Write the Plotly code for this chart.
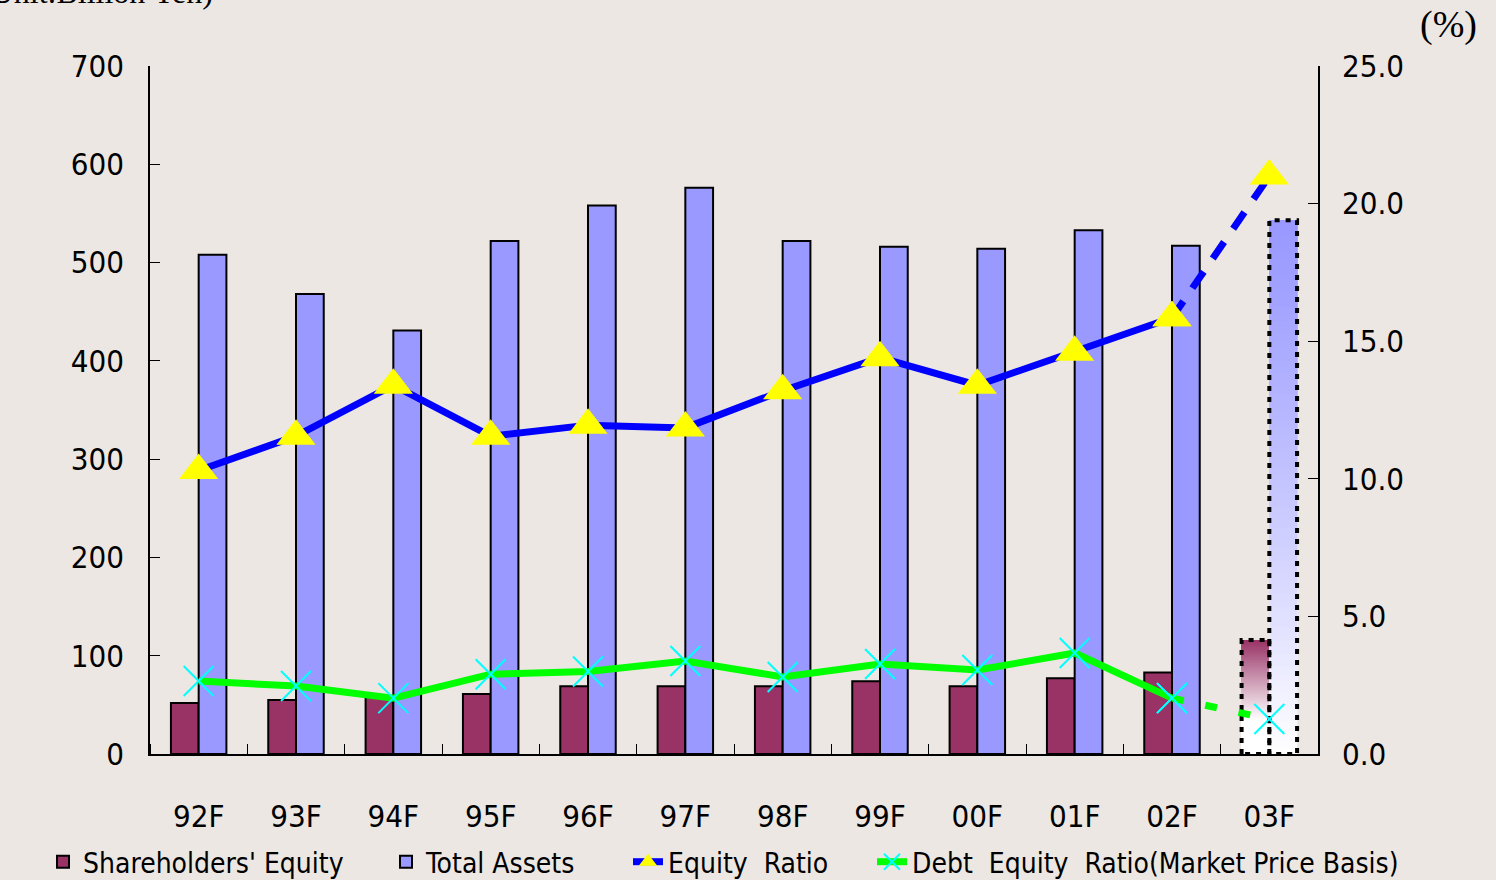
import numpy as np
import plotly.graph_objects as go

categories = ["92F", "93F", "94F", "95F", "96F", "97F", "98F", "99F", "00F", "01F", "02F", "03F"]
shareholders_equity = [52, 55, 58, 61, 69, 69, 69, 74, 69, 77, 83, 116]
total_assets = [508, 468, 431, 522, 558, 576, 522, 516, 514, 533, 517, 543]
equity_ratio = [10.3, 11.55, 13.4, 11.55, 11.95, 11.85, 13.2, 14.4, 13.4, 14.6, 15.85, 21.0]
debt_equity_ratio = [2.65, 2.47, 2.03, 2.9, 3.0, 3.38, 2.8, 3.27, 3.05, 3.67, 2.03, 1.27]

BG = "#ECE7E3"
MAROON = "#993366"
BLUE_BAR = "#9999FF"
FONT = "DejaVu Sans Condensed, Liberation Sans Narrow, sans-serif"
SERIF = "Liberation Serif, DejaVu Serif, serif"
W = 0.285

n_actual = len(categories) - 1
xs = np.arange(len(categories))

fig = go.Figure()

fig.add_trace(go.Bar(
    x=xs[:n_actual], y=shareholders_equity[:n_actual], width=W, offset=-W,
    marker=dict(color=MAROON, line=dict(color="black", width=2)),
    name="Shareholders' Equity", legend="legend", hoverinfo="skip"))
fig.add_trace(go.Bar(
    x=xs[:n_actual], y=total_assets[:n_actual], width=W, offset=0,
    marker=dict(color=BLUE_BAR, line=dict(color="black", width=2)),
    name="Total Assets", legend="legend2", hoverinfo="skip"))


def mix(c, t):
    c = c.lstrip("#")
    r, g, b = int(c[0:2], 16), int(c[2:4], 16), int(c[4:6], 16)
    return "rgb(%d,%d,%d)" % (r + (255 - r) * t, g + (255 - g) * t, b + (255 - b) * t)


def gradient_bar(xpos, value, color, offset, white_below, power):
    # one bar drawn as overlapping slices from the bottom up, all ending at the value
    N = 80
    h = value / N
    bases = [i * h for i in range(N)]
    heights = [value - b for b in bases]
    cols = []
    for i in range(N):
        frac = (i + 0.5) / N  # 0 bottom -> 1 top
        t = (1 - frac) / (1 - white_below)
        t = max(0.0, min(1.0, t)) ** power
        cols.append(mix(color, t))
    fig.add_trace(go.Bar(
        x=[xpos] * N, y=heights, base=bases, width=W, offset=offset,
        marker=dict(color=cols, line=dict(width=0)),
        showlegend=False, hoverinfo="skip"))
    x0 = xpos + offset
    x1 = x0 + W
    fig.add_trace(go.Scatter(
        x=[x0, x0, x1, x1, x0], y=[0, value, value, 0, 0], mode="lines",
        line=dict(color="black", width=4, dash="5px,6px"),
        showlegend=False, hoverinfo="skip"))


gradient_bar(xs[-1], shareholders_equity[-1], MAROON, -W, 0.3, 1.0)
gradient_bar(xs[-1], total_assets[-1], BLUE_BAR, 0, 0.0, 1.2)

TRI = dict(symbol="triangle-up", size=34, color="#FFFF00", line=dict(width=0))
XM = dict(symbol="x-thin-open", size=30, color="#00FFFF", line=dict(width=2, color="#00FFFF"))

fig.add_trace(go.Scatter(
    x=xs[:n_actual], y=equity_ratio[:n_actual], yaxis="y2", mode="lines+markers",
    line=dict(color="#0000FF", width=7), marker=TRI,
    name="Equity\u00a0 Ratio", legend="legend3", hoverinfo="skip"))
fig.add_trace(go.Scatter(
    x=xs[n_actual - 1:], y=equity_ratio[n_actual - 1:], yaxis="y2", mode="lines",
    line=dict(color="#0000FF", width=7, dash="20px,16px"),
    showlegend=False, hoverinfo="skip"))
fig.add_trace(go.Scatter(
    x=xs[n_actual - 1:], y=equity_ratio[n_actual - 1:], yaxis="y2", mode="markers",
    marker=TRI, showlegend=False, hoverinfo="skip"))

fig.add_trace(go.Scatter(
    x=xs[:n_actual], y=debt_equity_ratio[:n_actual], yaxis="y2", mode="lines+markers",
    line=dict(color="#00FF00", width=7), marker=XM,
    name="Debt\u00a0 Equity\u00a0 Ratio(Market Price Basis)", legend="legend4", hoverinfo="skip"))
fig.add_trace(go.Scatter(
    x=xs[n_actual - 1:], y=debt_equity_ratio[n_actual - 1:], yaxis="y2", mode="lines",
    line=dict(color="#00FF00", width=7, dash="12px,22px"),
    showlegend=False, hoverinfo="skip"))
fig.add_trace(go.Scatter(
    x=xs[n_actual - 1:], y=debt_equity_ratio[n_actual - 1:], yaxis="y2", mode="markers",
    marker=XM, showlegend=False, hoverinfo="skip"))


def leg(xpx):
    return dict(orientation="h", xref="container", yref="container",
                x=xpx / 1496, xanchor="left", y=18 / 880, yanchor="middle",
                bgcolor="rgba(0,0,0,0)", font=dict(size=28), itemwidth=30)


fig.update_layout(
    width=1496, height=880,
    margin=dict(l=150, r=178, t=66, b=126, autoexpand=False),
    paper_bgcolor=BG, plot_bgcolor=BG,
    barmode="overlay",
    font=dict(family=FONT, size=30, color="black"),
    xaxis=dict(
        range=[-0.5, 11.5], tickvals=list(xs), ticktext=categories, ticks="",
        showline=True, linecolor="black", linewidth=1.5, showgrid=False, zeroline=False,
        ticklabelstandoff=34, tickfont=dict(size=31), automargin=False,
        minor=dict(ticks="inside", tick0=0.5, dtick=1, ticklen=10, tickcolor="black", showgrid=False),
    ),
    yaxis=dict(
        range=[0, 700], dtick=100, ticks="inside", ticklen=10, tickcolor="black",
        showline=True, linecolor="black", linewidth=1.5, showgrid=False, zeroline=False,
        ticklabelstandoff=18, tickfont=dict(size=31), automargin=False,
    ),
    yaxis2=dict(
        range=[0, 25], dtick=5, tickformat=".1f", overlaying="y", side="right",
        ticks="inside", ticklen=10, tickcolor="black",
        showline=True, linecolor="black", linewidth=1.5, showgrid=False, zeroline=False,
        ticklabelstandoff=16, tickfont=dict(size=31), automargin=False,
    ),
    legend=leg(43),
    legend2=leg(386),
    legend3=leg(628),
    legend4=leg(872),
    showlegend=True,
    annotations=[
        dict(text="(Unit:Billion Yen)", xref="paper", yref="paper", x=0.0557, y=1.078,
             xanchor="right", yanchor="bottom", showarrow=False,
             font=dict(family=SERIF, size=32)),
        dict(text="(%)", xref="paper", yref="paper", x=1.0856, y=1.0596,
             xanchor="left", yanchor="middle", showarrow=False,
             font=dict(family=SERIF, size=38)),
    ],
)

fig.write_html("out.html", config={"displayModeBar": False},
               post_script="document.body.style.margin='0';document.body.style.background='%s';" % BG)
